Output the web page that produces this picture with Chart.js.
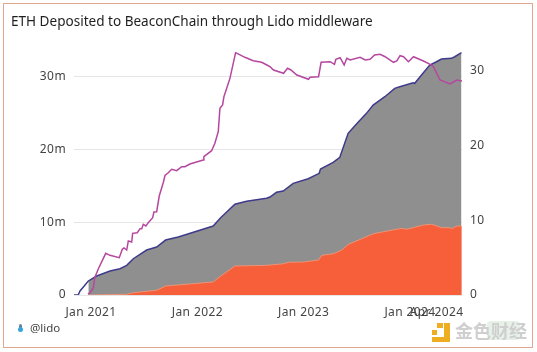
<!DOCTYPE html>
<html>
<head>
<meta charset="utf-8">
<style>
html,body{margin:0;padding:0;background:#fff;width:537px;height:352px;overflow:hidden}
#frame{position:absolute;left:3px;top:3px;width:528px;height:343px;border:1px solid #e3a78c;box-sizing:content-box}
#wrap{position:absolute;left:0;top:0;width:537px;height:352px}
#title{position:absolute;left:11px;top:12px;font:13.55px "Noto Sans",sans-serif;color:#1f1f1f;white-space:nowrap}
#credit{position:absolute;left:30px;top:320px;font:11.5px "Noto Sans",sans-serif;color:#444}
#drop{position:absolute;left:18px;top:327px;width:5px;height:5px;border-radius:50%;background:#35a5e0}
#dropTop{position:absolute;left:19px;top:324px;width:3px;height:4px;background:#6b7f95;border-radius:50% 50% 0 0}
#glow{position:absolute;left:487px;top:321px;width:33px;height:19px;background:#e6f2e8;border-radius:4px}
#mark{position:absolute;left:455px;top:317px;font:bold 18px "Noto Sans CJK SC",sans-serif;color:#cfcfcf;white-space:nowrap}
.logo{position:absolute;background:#efae22}
#logoA{left:432px;top:337px;width:18px;height:5px}
#logoB{left:444px;top:323px;width:6px;height:19px}
#logoC{left:432px;top:330px;width:5px;height:5px}
#logoD{left:437px;top:323px;width:6px;height:5px}
</style>
</head>
<body>
<div id="frame"></div>
<div id="wrap"><canvas id="c" width="537" height="352"></canvas></div>
<div id="title">ETH Deposited to BeaconChain through Lido middleware</div>
<div id="dropTop"></div><div id="drop"></div><div id="credit">@lido</div>
<div id="glow"></div>
<div class="logo" id="logoA"></div><div class="logo" id="logoB"></div><div class="logo" id="logoC"></div><div class="logo" id="logoD"></div><div id="mark">金色财经</div>
<script src="https://cdn.jsdelivr.net/npm/chart.js@4/dist/chart.umd.js"></script>
<script>
// x values are months since Jan 2021
const totalMonths=[-1.92,-1.43,-1.24,-0.30,0.64,2.14,3.27,4.03,4.77,6.28,7.41,8.42,9.85,13.79,14.63,16.24,17.56,17.93,19.81,20.19,20.94,21.69,22.82,24.51,25.75,25.90,27.33,28.08,29.02,29.96,31.09,31.84,33.16,34.28,34.85,36.35,36.54,37.30,38.23,38.99,39.55,40.68,41.05,41.81];
const totalEth=[0,0.04,0.55,1.93,2.61,3.30,3.62,4.08,4.99,6.19,6.60,7.56,7.98,9.49,10.63,12.48,12.89,12.97,13.30,13.48,14.13,14.31,15.36,16.0,16.74,17.33,18.25,18.94,22.24,23.52,24.99,26.13,27.28,28.43,28.65,29.20,29.12,30.26,31.64,32.09,32.46,32.56,32.78,33.33];
const lidoMonths=[-0.34,4.03,4.77,7.41,8.42,13.79,14.55,16.24,19.85,21.73,22.30,23.99,25.68,26.05,27.37,28.31,29.06,31.88,33.01,35.07,35.63,37.52,38.46,39.58,40.52,40.71,41.28,41.84];
const lidoEth=[0,0.10,0.32,0.65,1.24,1.79,2.52,3.99,4.08,4.30,4.50,4.54,4.81,5.46,5.68,6.19,6.97,8.43,8.71,9.17,9.04,9.63,9.73,9.26,9.26,9.12,9.49,9.49];
const shareMonths=[-0.34,-0.11,0.26,0.42,0.82,1.66,2.14,3.19,3.53,3.72,4.03,4.21,4.59,4.70,5.22,5.53,5.72,5.90,6.20,6.46,6.96,7.10,7.41,7.70,8.15,8.35,8.72,9.10,9.67,10.23,10.60,11.16,12.66,12.74,13.61,13.98,14.36,14.55,14.85,15.0,15.68,16.32,17.37,18.30,19.25,19.85,20.19,20.60,21.73,22.18,22.56,23.23,24.55,24.73,25.68,25.97,26.99,27.48,27.63,28.12,28.57,28.87,29.25,30.37,30.94,31.50,32.0,32.63,33.19,34.14,34.51,34.88,35.27,35.83,36.39,37.52,38.27,38.65,39.39,40.52,41.28,41.87];
const sharePct=[0.13,0.31,0.94,2.32,3.48,5.58,5.31,4.99,6.12,6.29,6.02,7.23,7.10,8.26,8.34,8.88,8.88,9.46,9.24,9.68,10.35,11.11,11.15,13.25,15.03,16.0,16.37,16.83,16.64,17.18,17.18,17.54,18.07,18.51,19.32,20.31,21.86,24.99,25.44,26.55,29.0,32.44,31.82,31.37,31.15,30.79,30.56,30.12,29.68,30.35,30.12,29.45,28.88,29.14,29.22,31.15,31.23,30.88,31.55,31.77,30.79,31.69,31.46,31.82,31.46,31.55,32.13,32.22,31.90,31.15,31.33,32.04,31.90,31.23,31.90,31.33,30.88,30.56,28.78,28.25,28.78,28.65];
const xTickMonths=[0,12,24,36,39];
const xTickLabels=["Jan 2021","Jan 2022","Jan 2023","Jan 2024","Apr 2024"];
const leftTicks=[0,10,20,30];
const rightTicks=[0,10,20,30];

const pairs=(xs,ys)=>xs.map((x,i)=>({x,y:ys[i]}));
const tickColor="#444";
const tickFont={family:"'Noto Sans',sans-serif",size:12};
const spacing={id:"spacing",beforeDraw(chart){chart.ctx.letterSpacing="0.4px"}};
new Chart(document.getElementById("c"),{
  type:"line",
  plugins:[spacing],
  data:{datasets:[
    {label:"Lido middleware share",data:pairs(shareMonths,sharePct),yAxisID:"yR",borderColor:"#b5479f",borderWidth:1.5,pointRadius:0,fill:false,tension:0,order:1},
    {label:"Total deposited",data:pairs(totalMonths,totalEth),yAxisID:"yL",borderColor:"#3f3b8c",borderWidth:1.5,pointRadius:0,fill:false,tension:0,order:2},
    {label:"Lido",data:pairs(lidoMonths,lidoEth),yAxisID:"yL",borderColor:"#f59a7c",borderWidth:0.8,backgroundColor:"#f65f3a",pointRadius:0,fill:"origin",tension:0,order:3},
    {label:"Other",data:pairs(totalMonths.slice(3),totalEth.slice(3)),yAxisID:"yL",borderColor:"#8f8f8f",borderWidth:0,backgroundColor:"#8f8f8f",pointRadius:0,fill:"origin",tension:0,order:4}
  ]},
  options:{
    responsive:false,animation:false,
    layout:{padding:{top:52,bottom:0,left:0,right:0}},
    plugins:{legend:{display:false},title:{display:false},tooltip:{enabled:false}},
    scales:{
      x:{type:"linear",min:-1.92,max:41.87,
        afterFit(s){s.height=57},
        afterBuildTicks(s){s.ticks=xTickMonths.map(v=>({value:v}))},
        grid:{display:false},border:{display:false},
        ticks:{autoSkip:false,maxRotation:0,color:tickColor,font:tickFont,padding:2,
          callback:(v)=>xTickLabels[xTickMonths.indexOf(v)]}},
      yL:{position:"left",min:0,max:33.43,
        afterFit(s){s.width=74},
        afterBuildTicks(s){s.ticks=leftTicks.map(v=>({value:v}))},
        grid:{color:"#e6e6e6",drawTicks:false,lineWidth:1},border:{display:false},
        ticks:{color:tickColor,font:tickFont,padding:8,callback:(v)=>v===0?"0":v+"m"}},
      yR:{position:"right",min:0,max:32.53,
        afterFit(s){s.width=75},
        afterBuildTicks(s){s.ticks=rightTicks.map(v=>({value:v}))},
        grid:{display:false,drawTicks:false},border:{display:false},
        ticks:{color:tickColor,font:tickFont,padding:8}}
    }
  }
});
</script>
</body>
</html>
